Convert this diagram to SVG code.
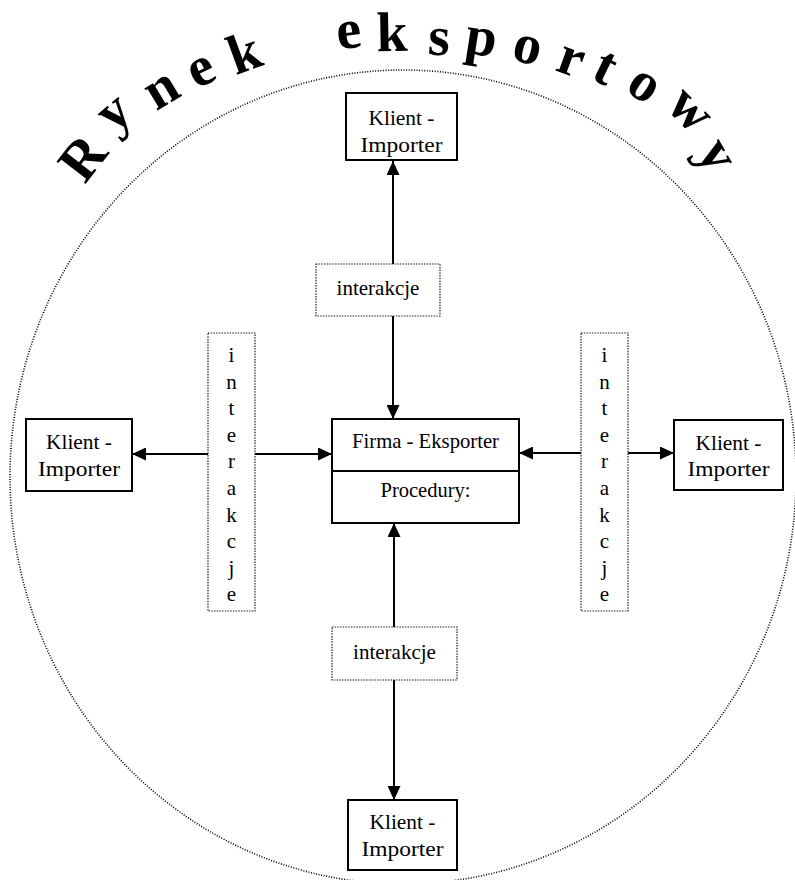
<svg xmlns="http://www.w3.org/2000/svg" width="795" height="880" viewBox="0 0 795 880">
<style>
.bg{fill:#fff}
.ring{fill:none;stroke:#000;stroke-width:1.6;stroke-dasharray:1 1.6}
.box{fill:#fff;stroke:#000;stroke-width:2}
.ibox{fill:#fff;stroke:#222;stroke-width:1.2;stroke-dasharray:1.5 1.2}
.lbl{font-family:"Liberation Serif","Times New Roman",serif;font-size:22px;fill:#000;text-anchor:middle}
.il{font-family:"Liberation Serif","Times New Roman",serif;font-size:21px;fill:#000;text-anchor:middle}
.ttl{font-family:"Liberation Serif","Times New Roman",serif;font-weight:bold;font-size:56px;fill:#000;text-anchor:middle}
.conn line{stroke:#000;stroke-width:2;marker-end:url(#arr)}
</style>
<defs>
<marker id="arr" viewBox="0 0 14 13" refX="14" refY="6.5" markerWidth="14" markerHeight="13" markerUnits="userSpaceOnUse" orient="auto">
<path d="M0,0 L14,6.5 L0,13 z" fill="#000"/>
</marker>
</defs>
<rect class="bg" x="0" y="0" width="795" height="880"/>
<ellipse id="rynek" class="ring" cx="403" cy="477" rx="393" ry="407"/>
<g id="title" class="ttl">
<text transform="translate(83,158) rotate(-52)" y="18">R</text>
<text transform="translate(120,120) rotate(-40)" y="7">y</text>
<text transform="translate(163,92) rotate(-31)" y="13">n</text>
<text transform="translate(202,72) rotate(-26)" y="13">e</text>
<text transform="translate(244,52) rotate(-20)" y="19">k</text>
<text transform="translate(349,35) rotate(-7)" y="13">e</text>
<text transform="translate(392,32) rotate(-1)" y="19">k</text>
<text transform="translate(439,42) rotate(4)" y="13">s</text>
<text transform="translate(480,48) rotate(9)" y="7">p</text>
<text transform="translate(527,50) rotate(14)" y="13">o</text>
<text transform="translate(570,62) rotate(20)" y="13">r</text>
<text transform="translate(605,68) rotate(26)" y="16">t</text>
<text transform="translate(643,87) rotate(34)" y="13">o</text>
<text transform="translate(688,112) rotate(45)" y="13">w</text>
<text transform="translate(709,160) rotate(60)" y="7">y</text>
</g>
<g class="conn">
<line x1="393" y1="264" x2="393" y2="161"/>
<line x1="393" y1="316" x2="393" y2="419"/>
<line x1="394" y1="627" x2="394" y2="523"/>
<line x1="394" y1="680" x2="394" y2="800"/>
<line x1="208" y1="454" x2="132" y2="454"/>
<line x1="255" y1="454" x2="332" y2="454"/>
<line x1="581" y1="453" x2="519" y2="453"/>
<line x1="628" y1="453" x2="674" y2="453"/>
</g>
<g id="klient-top">
<rect class="box" x="346" y="93" width="111" height="67"/>
<text class="lbl" x="401.5" y="125" textLength="66" lengthAdjust="spacingAndGlyphs">Klient -</text>
<text class="lbl" x="401.5" y="152" textLength="82" lengthAdjust="spacingAndGlyphs">Importer</text>
</g>
<g id="klient-left">
<rect class="box" x="26" y="419" width="106" height="72"/>
<text class="lbl" x="79" y="449" textLength="66" lengthAdjust="spacingAndGlyphs">Klient -</text>
<text class="lbl" x="79" y="476" textLength="82" lengthAdjust="spacingAndGlyphs">Importer</text>
</g>
<g id="klient-right">
<rect class="box" x="674" y="420" width="109" height="70"/>
<text class="lbl" x="728.5" y="450" textLength="66" lengthAdjust="spacingAndGlyphs">Klient -</text>
<text class="lbl" x="728.5" y="476" textLength="82" lengthAdjust="spacingAndGlyphs">Importer</text>
</g>
<g id="klient-bottom">
<rect class="box" x="348" y="800" width="109" height="70"/>
<text class="lbl" x="402.5" y="829" textLength="66" lengthAdjust="spacingAndGlyphs">Klient -</text>
<text class="lbl" x="402.5" y="856" textLength="82" lengthAdjust="spacingAndGlyphs">Importer</text>
</g>
<g id="firma">
<rect class="box" x="332" y="419" width="187" height="104"/>
<line x1="332" y1="471" x2="519" y2="471" stroke="#000" stroke-width="2"/>
<text class="lbl" x="425.5" y="448" textLength="147" lengthAdjust="spacingAndGlyphs">Firma - Eksporter</text>
<text class="lbl" x="425.5" y="497" textLength="90" lengthAdjust="spacingAndGlyphs">Procedury:</text>
</g>
<g id="interakcje-top">
<rect class="ibox" x="316" y="264" width="124" height="52"/>
<text class="il" x="378" y="295">interakcje</text>
</g>
<g id="interakcje-bottom">
<rect class="ibox" x="332" y="627" width="125" height="53"/>
<text class="il" x="394.5" y="659">interakcje</text>
</g>
<g id="interakcje-left">
<rect class="ibox" x="208" y="333" width="47" height="278"/>
<text class="il" x="231.5" y="362">i</text>
<text class="il" x="231.5" y="388.5">n</text>
<text class="il" x="231.5" y="415">t</text>
<text class="il" x="231.5" y="441.5">e</text>
<text class="il" x="231.5" y="468">r</text>
<text class="il" x="231.5" y="495">a</text>
<text class="il" x="231.5" y="521.5">k</text>
<text class="il" x="231.5" y="548">c</text>
<text class="il" x="231.5" y="574.5">j</text>
<text class="il" x="231.5" y="601">e</text>
</g>
<g id="interakcje-right">
<rect class="ibox" x="581" y="333" width="47" height="278"/>
<text class="il" x="604.5" y="362">i</text>
<text class="il" x="604.5" y="388.5">n</text>
<text class="il" x="604.5" y="415">t</text>
<text class="il" x="604.5" y="441.5">e</text>
<text class="il" x="604.5" y="468">r</text>
<text class="il" x="604.5" y="495">a</text>
<text class="il" x="604.5" y="521.5">k</text>
<text class="il" x="604.5" y="548">c</text>
<text class="il" x="604.5" y="574.5">j</text>
<text class="il" x="604.5" y="601">e</text>
</g>
</svg>
